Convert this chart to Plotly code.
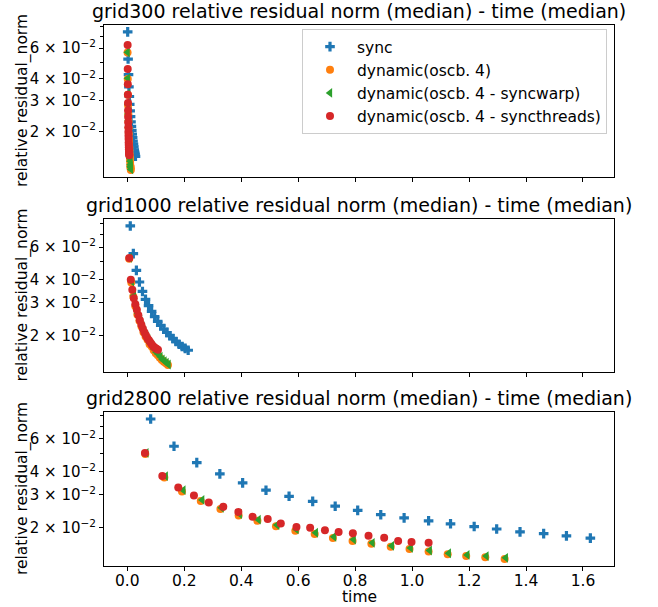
import math
import plotly.graph_objects as go

# ---------------- data ----------------
grid_names = ["grid300", "grid1000", "grid2800"]
series_names = ["sync", "dynamic(oscb. 4)", "dynamic(oscb. 4 - syncwarp)", "dynamic(oscb. 4 - syncthreads)"]

# grid300
g300_sync_x = [0.0014, 0.0028, 0.0043, 0.0057, 0.0072, 0.0086, 0.0100, 0.0115, 0.0129, 0.0144,
               0.0158, 0.0172, 0.0187, 0.0201, 0.0216, 0.0230, 0.0244, 0.0259, 0.0273, 0.0288]
g300_sync_y = [0.0744, 0.0520, 0.0423, 0.0360, 0.0317, 0.0286, 0.0262, 0.0243, 0.0227, 0.0214,
               0.0203, 0.0193, 0.0184, 0.0176, 0.0169, 0.0163, 0.0157, 0.0152, 0.0148, 0.0144]
g300_dyn_x = [0.0010, 0.0016, 0.0022, 0.0028, 0.0034, 0.0040, 0.0046, 0.0052, 0.0058, 0.0064,
              0.0070, 0.0076, 0.0082, 0.0088, 0.0094, 0.0100, 0.0106, 0.0112, 0.0118, 0.0124]
g300_dyn_y = [0.0566, 0.0400, 0.0325, 0.0282, 0.0250, 0.0228, 0.0209, 0.0194, 0.0181, 0.0172,
              0.0162, 0.0156, 0.0149, 0.0143, 0.0139, 0.0134, 0.0128, 0.0125, 0.0123, 0.0120]
g300_warp_x = [0.0012, 0.0018, 0.0024, 0.0031, 0.0037, 0.0043, 0.0049, 0.0055, 0.0062, 0.0068,
               0.0074, 0.0080, 0.0086, 0.0093, 0.0099, 0.0105, 0.0111, 0.0117, 0.0124, 0.0130]
g300_warp_y = [0.0569, 0.0403, 0.0328, 0.0285, 0.0252, 0.0230, 0.0211, 0.0196, 0.0183, 0.0174,
               0.0164, 0.0158, 0.0151, 0.0144, 0.0140, 0.0135, 0.0129, 0.0126, 0.0124, 0.0121]
g300_thr_x = [0.0012, 0.0015, 0.0018, 0.0021, 0.0024, 0.0027, 0.0030, 0.0033, 0.0036, 0.0039,
              0.0042, 0.0045, 0.0048, 0.0051, 0.0054, 0.0057, 0.0060, 0.0063, 0.0066, 0.0069]
g300_thr_y = [0.0626, 0.0456, 0.0373, 0.0325, 0.0291, 0.0264, 0.0242, 0.0225, 0.0211, 0.0199,
              0.0189, 0.0181, 0.0173, 0.0167, 0.0162, 0.0158, 0.0154, 0.0151, 0.0148, 0.0146]

# grid1000
g1000_sync_x = [0.0105, 0.0212, 0.0319, 0.0426, 0.0533, 0.0640, 0.0747, 0.0854, 0.0961, 0.1068,
                0.1175, 0.1282, 0.1389, 0.1496, 0.1603, 0.1710, 0.1817, 0.1924, 0.2031, 0.2138]
g1000_sync_y = [0.0779, 0.0553, 0.0449, 0.0389, 0.0346, 0.0314, 0.0290, 0.0270, 0.0253, 0.0239,
                0.0227, 0.0217, 0.0208, 0.0200, 0.0193, 0.0186, 0.0180, 0.0175, 0.0171, 0.0167]
g1000_dyn_x = [0.0068, 0.0140, 0.0211, 0.0283, 0.0354, 0.0426, 0.0498, 0.0569, 0.0641, 0.0712,
               0.0784, 0.0856, 0.0927, 0.0999, 0.1070, 0.1142, 0.1214, 0.1285, 0.1357, 0.1428]
g1000_dyn_y = [0.0519, 0.0387, 0.0325, 0.0288, 0.0260, 0.0241, 0.0224, 0.0209, 0.0198, 0.0190,
               0.0180, 0.0175, 0.0167, 0.0161, 0.0157, 0.0152, 0.0148, 0.0145, 0.0142, 0.0139]
g1000_warp_x = [0.0088, 0.0160, 0.0231, 0.0303, 0.0374, 0.0446, 0.0518, 0.0589, 0.0661, 0.0732,
                0.0804, 0.0876, 0.0947, 0.1019, 0.1090, 0.1162, 0.1234, 0.1305, 0.1377, 0.1448]
g1000_warp_y = [0.0524, 0.0391, 0.0328, 0.0291, 0.0263, 0.0243, 0.0226, 0.0211, 0.0200, 0.0192,
                0.0182, 0.0177, 0.0169, 0.0163, 0.0159, 0.0154, 0.0149, 0.0146, 0.0143, 0.0140]
g1000_thr_x = [0.0070, 0.0123, 0.0176, 0.0229, 0.0282, 0.0335, 0.0388, 0.0441, 0.0494, 0.0547,
               0.0600, 0.0653, 0.0706, 0.0759, 0.0812, 0.0865, 0.0918, 0.0971, 0.1024, 0.1077]
g1000_thr_y = [0.0524, 0.0400, 0.0353, 0.0318, 0.0295, 0.0276, 0.0258, 0.0242, 0.0229, 0.0218,
               0.0209, 0.0201, 0.0194, 0.0189, 0.0184, 0.0179, 0.0175, 0.0172, 0.0170, 0.0168]

# grid2800
g2800_sync_x = [0.082, 0.164, 0.244, 0.325, 0.405, 0.487, 0.568, 0.651, 0.730, 0.809,
                0.890, 0.972, 1.058, 1.135, 1.218, 1.297, 1.379, 1.462, 1.542, 1.626]
g2800_sync_y = [0.0766, 0.0547, 0.0447, 0.0389, 0.0348, 0.0318, 0.0295, 0.0277, 0.0261, 0.0248,
                0.0235, 0.0226, 0.0218, 0.0210, 0.0203, 0.0197, 0.0190, 0.0186, 0.0181, 0.0176]
g2800_dyn_x = [0.063, 0.130, 0.192, 0.258, 0.327, 0.391, 0.457, 0.522, 0.590, 0.658,
               0.722, 0.791, 0.857, 0.925, 0.991, 1.058, 1.125, 1.190, 1.257, 1.325]
g2800_dyn_y = [0.0497, 0.0372, 0.0313, 0.0278, 0.0252, 0.0233, 0.0218, 0.0204, 0.0193, 0.0185,
               0.0176, 0.0170, 0.0164, 0.0158, 0.0154, 0.0149, 0.0144, 0.0141, 0.0139, 0.0136]
g2800_warp_x = [0.067, 0.135, 0.197, 0.263, 0.331, 0.395, 0.461, 0.526, 0.594, 0.662,
                0.726, 0.795, 0.861, 0.929, 0.995, 1.062, 1.129, 1.194, 1.261, 1.329]
g2800_warp_y = [0.0504, 0.0378, 0.0318, 0.0282, 0.0256, 0.0237, 0.0221, 0.0207, 0.0196, 0.0188,
                0.0179, 0.0173, 0.0166, 0.0160, 0.0156, 0.0151, 0.0146, 0.0143, 0.0141, 0.0138]
g2800_thr_x = [0.062, 0.123, 0.179, 0.234, 0.286, 0.337, 0.390, 0.440, 0.493, 0.539,
               0.594, 0.642, 0.694, 0.742, 0.792, 0.847, 0.902, 0.951, 0.998, 1.058]
g2800_thr_y = [0.0504, 0.0379, 0.0329, 0.0298, 0.0273, 0.0259, 0.0243, 0.0229, 0.0223, 0.0211,
               0.0202, 0.0200, 0.0194, 0.0190, 0.0187, 0.0181, 0.0177, 0.0170, 0.0168, 0.0166]

x_tick_vals = [0.0, 0.2, 0.4, 0.6, 0.8, 1.0, 1.2, 1.4, 1.6]
x_tick_text = ["0.0", "0.2", "0.4", "0.6", "0.8", "1.0", "1.2", "1.4", "1.6"]
y_tick_vals = [0.02, 0.03, 0.04, 0.06]
y_tick_text = ["2 × 10<sup>−2</sup>", "3 × 10<sup>−2</sup>", "4 × 10<sup>−2</sup>", "6 × 10<sup>−2</sup>"]
y_minor_vals = [0.05, 0.07, 0.08, 0.09]

# ---------------- styling ----------------
colors = ["#1f77b4", "#ff7f0e", "#2ca02c", "#d62728"]
symbols = ["cross", "circle", "triangle-left", "circle"]
sizes = [8, 8, 8.5, 8]
FONT = "DejaVu Sans, Liberation Sans, sans-serif"
FS = 15.5

panels = [
    [(g300_sync_x, g300_sync_y), (g300_dyn_x, g300_dyn_y), (g300_warp_x, g300_warp_y), (g300_thr_x, g300_thr_y)],
    [(g1000_sync_x, g1000_sync_y), (g1000_dyn_x, g1000_dyn_y), (g1000_warp_x, g1000_warp_y), (g1000_thr_x, g1000_thr_y)],
    [(g2800_sync_x, g2800_sync_y), (g2800_dyn_x, g2800_dyn_y), (g2800_warp_x, g2800_warp_y), (g2800_thr_x, g2800_thr_y)],
]

W, H = 658, 607
ML, MR, MT, MB = 104, 44, 25, 41
plot_w = W - ML - MR
plot_h = H - MT - MB
frames = [(25, 177), (219, 372), (412, 566)]  # screen px (top, bottom)


def py2paper(py):
    return (H - MB - py) / plot_h


def px2paper(px):
    return (px - ML) / plot_w


fig = go.Figure()
for i, series in enumerate(panels):
    ax = "" if i == 0 else str(i + 1)
    for j, (xs, ys) in enumerate(series):
        fig.add_trace(go.Scatter(
            x=xs, y=ys, mode="markers", name=series_names[j],
            legendgroup=series_names[j], showlegend=(i == 0),
            marker=dict(color=colors[j], symbol=symbols[j], size=sizes[j], line=dict(width=0)),
            xaxis="x" + ax, yaxis="y" + ax,
        ))

axis_common = dict(showline=True, linecolor="black", linewidth=1, mirror=True,
                   ticks="outside", ticklen=4, tickwidth=1, tickcolor="black",
                   showgrid=False, zeroline=False, automargin=False)

layout = dict(width=W, height=H, margin=dict(l=ML, r=MR, t=MT, b=MB, autoexpand=False),
              plot_bgcolor="white", paper_bgcolor="white",
              font=dict(family=FONT, size=FS, color="black"),
              showlegend=True,
              legend=dict(x=px2paper(607), xanchor="right",
                          y=py2paper(29), yanchor="top",
                          bgcolor="rgba(255,255,255,0.8)", bordercolor="#cccccc", borderwidth=1,
                          font=dict(family=FONT, size=FS, color="black"),
                          tracegroupgap=0, itemwidth=44))

annotations = []
for i, series in enumerate(panels):
    ax = "" if i == 0 else str(i + 1)
    top, bot = frames[i]
    all_y = [v for (_, ys) in series for v in ys]
    lo, hi = math.log10(min(all_y)), math.log10(max(all_y))
    pad = 0.05 * (hi - lo)
    layout["xaxis" + ax] = dict(axis_common, domain=[0, 1], anchor="y" + ax,
                                range=[-0.0818, 1.709],
                                tickvals=x_tick_vals,
                                ticktext=x_tick_text if i == 2 else [""] * len(x_tick_vals),
                                tickfont=dict(family=FONT, size=FS, color="black"),
                                ticklabelstandoff=-4,
                                **({} if i == 0 else {"matches": "x"}))
    layout["yaxis" + ax] = dict(axis_common, domain=[py2paper(bot), py2paper(top)], anchor="x" + ax,
                                type="log", range=[lo - pad, hi + pad],
                                tickvals=y_tick_vals, ticktext=y_tick_text,
                                tickfont=dict(family=FONT, size=15, color="black"),
                                minor=dict(tickvals=y_minor_vals, ticks="outside", ticklen=3,
                                           tickcolor="black", tickwidth=1))
    annotations.append(dict(text=f"{grid_names[i]} relative residual norm (median) - time (median)",
                            xref="paper", yref="paper", x=0.5, y=py2paper(top),
                            xanchor="center", yanchor="bottom", yshift=1, showarrow=False,
                            font=dict(family=FONT, size=19, color="black")))
    annotations.append(dict(text="relative residual_norm", xref="paper", yref="paper",
                            x=px2paper(22), y=py2paper((top + bot) / 2),
                            xanchor="center", yanchor="middle", textangle=-90, showarrow=False,
                            font=dict(family=FONT, size=FS, color="black")))

annotations.append(dict(text="time", xref="paper", yref="paper", x=0.5, y=py2paper(597),
                        xanchor="center", yanchor="middle", showarrow=False,
                        font=dict(family=FONT, size=FS, color="black")))
layout["annotations"] = annotations

fig.update_layout(**layout)
fig.write_html("out.html", config={"displayModeBar": False},
               post_script="document.body.style.margin='0px';")
